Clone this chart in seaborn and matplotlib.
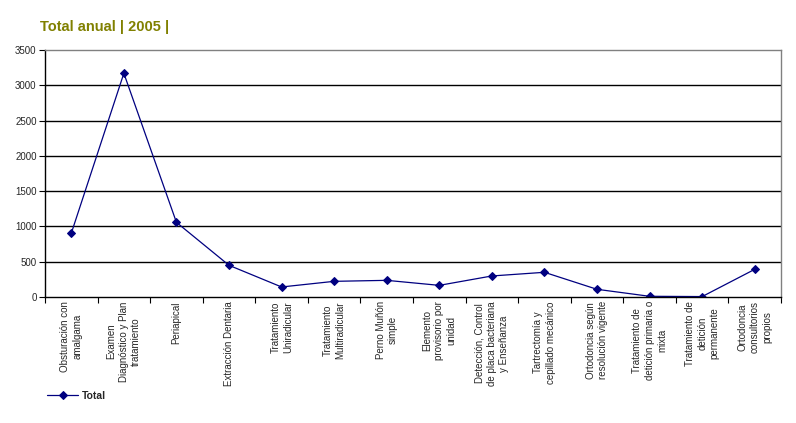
import pandas as pd
import matplotlib
matplotlib.use("Agg")
import matplotlib.pyplot as plt
import seaborn as sns

# Data
categories = [
    "Obsturación con\namalgama",
    "Examen\nDiagnóstico y Plan\ntratamiento",
    "Periapical",
    "Extracción Dentaria",
    "Tratamiento\nUniradicular",
    "Tratamiento\nMultiradicular",
    "Perno Muñón\nsimple",
    "Elemento\nprovisorio por\nunidad",
    "Detección, Control\nde placa bacteriana\ny Enseñanza",
    "Tartrectomía y\ncepillado mecánico",
    "Ortodoncia según\nresolución vigente",
    "Tratamiento de\ndetición primaria o\nmixta",
    "Tratamiento de\ndetición\npermanente",
    "Ortodoncia\nconsultorios\npropios",
]
totals = [903, 3170, 1058, 449, 142, 222, 236, 165, 298, 350, 109, 10, 6, 392]
y_ticks = [0, 500, 1000, 1500, 2000, 2500, 3000, 3500]

df = pd.DataFrame({"categoria": categories, "Total": totals})

sns.set_style("white")
plt.rcParams["font.family"] = ["Liberation Sans", "DejaVu Sans"]

fig = plt.figure(figsize=(7.96, 4.23), dpi=100)
ax = fig.add_axes([45 / 796, 1 - 297 / 423, 736 / 796, 247 / 423])

sns.lineplot(data=df, x="categoria", y="Total", sort=False, ax=ax,
             color="#000080", linewidth=0.9, marker="D", markersize=4.5,
             markeredgecolor="#000080", label="Total")

n = len(categories)
ax.set_xlim(-0.5, n - 0.5)
ax.set_ylim(0, 3500)
ax.set_yticks(y_ticks)
ax.set_yticklabels([str(v) for v in y_ticks], fontsize=7)

# category labels at centres, tick marks at boundaries (Excel style)
ax.set_xticks(range(n))
ax.set_xticklabels(categories, rotation=90, fontsize=7, va="top",
                   ha="center", multialignment="center", linespacing=1.3)
ax.tick_params(axis="x", which="major", length=0, pad=3)
ax.set_xticks([i - 0.5 for i in range(n + 1)], minor=True)
ax.tick_params(axis="x", which="minor", length=4, width=0.8, color="black",
               direction="out", bottom=True)
ax.tick_params(axis="y", length=4, width=0.8, color="black", direction="out",
               left=True, pad=2)

for v in y_ticks[1:-1]:
    ax.axhline(v, color="black", linewidth=1, zorder=0)

for side in ["left", "bottom"]:
    ax.spines[side].set_color("black")
    ax.spines[side].set_linewidth(1)
for side in ["top", "right"]:
    ax.spines[side].set_color("#808080")
    ax.spines[side].set_linewidth(1)

ax.set_xlabel("")
ax.set_ylabel("")

ax.legend(loc="lower left", bbox_to_anchor=(43 / 796, 1 - 405 / 423),
          bbox_transform=fig.transFigure, frameon=False,
          prop={"size": 7.5, "weight": "bold"}, handlelength=3,
          handletextpad=0.3, borderaxespad=0)

fig.text(40 / 796, 1 - 31 / 423, "Total anual | 2005 |", fontsize=10.5,
         fontweight="bold", color="#808000", ha="left", va="baseline")

fig.savefig("out.png", dpi=100)
